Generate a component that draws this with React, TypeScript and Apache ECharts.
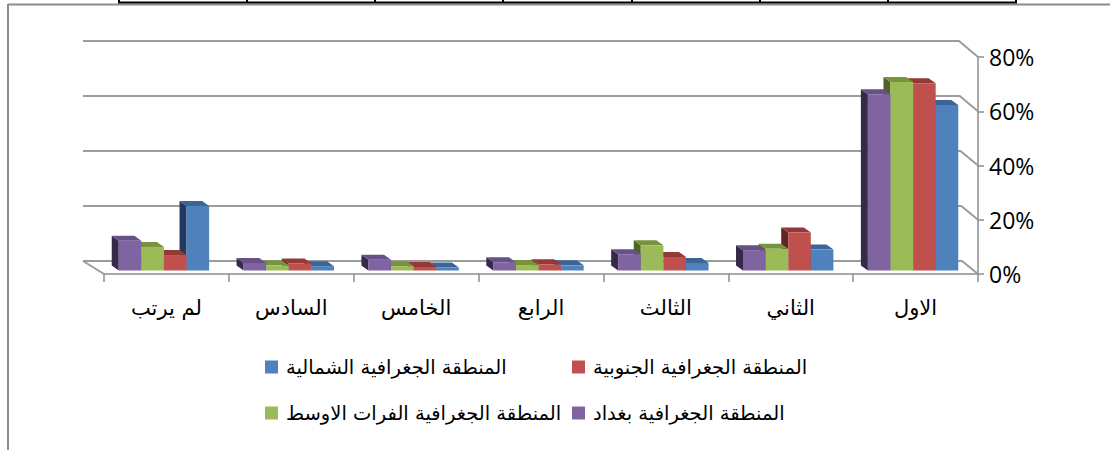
import React, { useEffect, useRef } from "react";
import * as echarts from "echarts";

const categories = ["الاول", "الثاني", "الثالث", "الرابع", "الخامس", "السادس", "لم يرتب"];
const seriesNames = [
  "المنطقة الجغرافية بغداد",
  "المنطقة الجغرافية الفرات الاوسط",
  "المنطقة الجغرافية الجنوبية",
  "المنطقة الجغرافية الشمالية",
];
const baghdad = [65, 7.5, 6, 3, 4, 2.8, 11];
const euphrates = [69.5, 8, 9.3, 2, 1.6, 1.9, 8.7];
const south = [69, 14, 5, 2.3, 1.3, 2.6, 5.7];
const north = [61, 7.7, 2.8, 1.9, 1.1, 1.6, 23.8];
const yTicks = [0, 20, 40, 60, 80];

const palette = [
  { front: "#8064A2", top: "#67518A", side: "#352a48" },
  { front: "#9BBB59", top: "#77933C", side: "#4F6228" },
  { front: "#C0504D", top: "#963835", side: "#632523" },
  { front: "#4F81BD", top: "#3A6596", side: "#1F3A5E" },
];

const ARABIC_FONT = "'DejaVu Sans', sans-serif";

function barSeries(name: string, values: number[], s: number) {
  const c = palette[s];
  return {
    type: "custom",
    name,
    z: 3,
    silent: true,
    clip: false,
    itemStyle: { color: c.front },
    encode: { x: 0, y: 1 },
    data: values.map((v, i) => [i, v]),
    renderItem: (params: any, api: any) => {
      const ci = api.value(0);
      const v = api.value(1);
      const base = api.coord([ci, 0]);
      const top = api.coord([ci, v]);
      const band = Math.abs(api.size([1, 0])[0]);
      const bw = band * 0.181;
      const L = base[0] - 2.5 + (s - 2) * bw;
      const R = L + bw;
      const B = base[1] - 3.5;
      const T = top[1] - 3.5;
      const dx = 7;
      const dy = 5;
      return {
        type: "group",
        children: [
          {
            type: "polygon",
            shape: { points: [[L, T], [L - dx, T - dy], [L - dx, B - dy], [L, B]] },
            style: { fill: c.side },
          },
          {
            type: "polygon",
            shape: { points: [[L, T], [R, T], [R - dx, T - dy], [L - dx, T - dy]] },
            style: { fill: c.top },
          },
          {
            type: "rect",
            shape: { x: L, y: T, width: R - L, height: B - T },
            style: { fill: c.front },
          },
        ],
      };
    },
  };
}

export default function App() {
  const ref = useRef<HTMLDivElement>(null);
  useEffect(() => {
    if (!ref.current) return;
    const chart = echarts.init(ref.current, null, { renderer: "svg" });
    const wallSeries = {
      type: "custom",
      name: "walls",
      z: 1,
      silent: true,
      clip: false,
      encode: { x: 0, y: 1 },
      data: yTicks.map((t) => [0, t]),
      renderItem: (params: any, api: any) => {
        const cs = params.coordSys;
        const t = api.value(1);
        const y = api.coord([0, t])[1];
        const gx = cs.x;
        const gw = cs.width;
        const frac = t / 80;
        const dyb = 13 + 3 * frac;
        const dxr = 16 + 3 * frac;
        const children: any[] = [
          {
            type: "polyline",
            shape: { points: [[gx - 21, y - dyb], [gx + gw - dxr, y - dyb], [gx + gw, y]] },
            style: { stroke: "#9c9c9c", lineWidth: 2, fill: "none" },
          },
        ];
        if (t === 0) {
          children.push({
            type: "line",
            shape: { x1: gx - 21, y1: y - dyb, x2: gx, y2: y },
            style: { stroke: "#9c9c9c", lineWidth: 2 },
          });
        }
        return { type: "group", children };
      },
    };

    const tableX = [119, 247, 375, 503, 632, 760, 888, 1016];
    const graphic: any[] = [
      { type: "line", shape: { x1: 8, y1: 4.5, x2: 1110, y2: 4.5 }, style: { stroke: "#8c8c8c", lineWidth: 2 } },
      { type: "line", shape: { x1: 8, y1: 4, x2: 8, y2: 450 }, style: { stroke: "#8c8c8c", lineWidth: 2 } },
      { type: "line", shape: { x1: 118, y1: 2.5, x2: 1017, y2: 2.5 }, style: { stroke: "#000", lineWidth: 2 } },
      ...tableX.map((x) => ({
        type: "line",
        shape: { x1: x, y1: 0, x2: x, y2: 3 },
        style: { stroke: "#000", lineWidth: 2 },
      })),
    ];

    const legendItem = (name: string, left: number, top: number) => ({
      data: [name],
      left,
      top,
      padding: 0,
      itemWidth: 13,
      itemHeight: 13,
      icon: "rect",
      selectedMode: false,
      textStyle: { fontSize: 19.5, color: "#000", fontFamily: ARABIC_FONT, padding: [0, 0, 0, 3] },
    });

    chart.setOption({
      animation: false,
      backgroundColor: "#fff",
      graphic,
      legend: [
        legendItem(seriesNames[3], 265, 357),
        legendItem(seriesNames[2], 572, 357),
        legendItem(seriesNames[1], 265, 403),
        legendItem(seriesNames[0], 572, 403),
      ],
      grid: { left: 104, right: 132, top: 57, bottom: 176 },
      xAxis: {
        type: "category",
        data: categories,
        inverse: true,
        axisLine: { show: true, lineStyle: { color: "#8c8c8c", width: 1.5 } },
        axisTick: { show: true, length: 8, lineStyle: { color: "#8c8c8c", width: 1.5 } },
        axisLabel: { fontSize: 21, color: "#000", margin: 23, fontFamily: ARABIC_FONT },
        splitLine: { show: false },
      },
      yAxis: {
        type: "value",
        min: 0,
        max: 80,
        interval: 20,
        position: "right",
        axisLine: { show: true, lineStyle: { color: "#8c8c8c", width: 1.5 } },
        axisTick: { show: true, length: 6, lineStyle: { color: "#8c8c8c", width: 1.5 } },
        splitLine: { show: false },
        axisLabel: {
          formatter: "{value}%",
          fontSize: 23,
          color: "#000",
          margin: 11,
          fontFamily: "'Open Sans', sans-serif",
        },
      },
      series: [
        wallSeries,
        barSeries(seriesNames[3], north, 3),
        barSeries(seriesNames[2], south, 2),
        barSeries(seriesNames[1], euphrates, 1),
        barSeries(seriesNames[0], baghdad, 0),
      ],
    });
    return () => chart.dispose();
  }, []);
  return (
    <div
      ref={ref}
      style={{ position: "fixed", left: 0, top: 0, width: 1110, height: 450, background: "#fff" }}
    />
  );
}
